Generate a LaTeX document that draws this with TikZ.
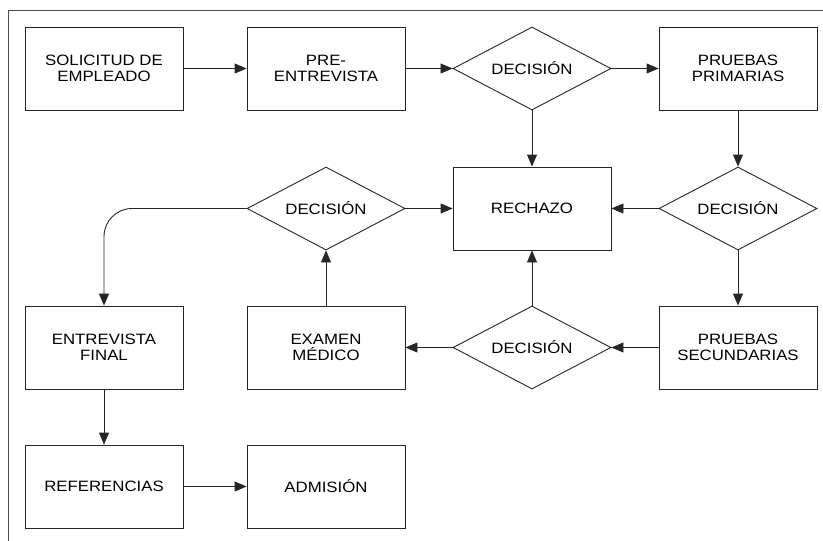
\documentclass[tikz,border=0pt]{standalone}
\usepackage{fontspec}
\setmainfont[FakeStretch=1.12]{Liberation Sans}
\usetikzlibrary{shapes.geometric,arrows.meta}
\begin{document}
\begin{tikzpicture}[x=1pt,y=-1pt,
  every node/.style={font=\fontsize{15}{16.5}\selectfont, align=center, text=black},
  proc/.style={draw=black!85, line width=0.9pt, rectangle, minimum width=158pt, minimum height=83pt, inner sep=0pt},
  decide/.style={draw=black!85, line width=0.9pt, diamond, shape aspect=1.9, minimum width=158pt, minimum height=83pt, inner sep=0pt},
  flow/.style={draw=black!85, line width=0.9pt, -{Triangle[length=12pt,width=10pt]}}]
  % page area and the partial frame along the top and left edges
  \useasboundingbox (0,0) rectangle (823,541);
  \draw[black!70, line width=1pt] (8,541) -- (8,10) -- (823,10);

  % row 1
  \node[proc]   (sol)  at (104,68.5) {SOLICITUD DE\\EMPLEADO};
  \node[proc]   (pre)  at (326,68.5) {PRE-\\ENTREVISTA};
  \node[decide] (d1)   at (532,68.5) {DECISIÓN};
  \node[proc]   (pp)   at (738,68.5) {PRUEBAS\\PRIMARIAS};
  % row 2
  \node[decide] (d3)   at (326,208.5) {DECISIÓN};
  \node[proc]   (rech) at (532,208.5) {RECHAZO};
  \node[decide] (d2)   at (738,208.5) {DECISIÓN};
  % row 3
  \node[proc]   (ef)   at (104,347.5) {ENTREVISTA\\FINAL};
  \node[proc]   (em)   at (326,347.5) {EXAMEN\\MÉDICO};
  \node[decide] (d4)   at (532,347.5) {DECISIÓN};
  \node[proc]   (ps)   at (738,347.5) {PRUEBAS\\SECUNDARIAS};
  % row 4
  \node[proc]   (ref)  at (104,486.5) {REFERENCIAS};
  \node[proc]   (adm)  at (326,486.5) {ADMISIÓN};

  % connectors
  \draw[flow] (sol) -- (pre);
  \draw[flow] (pre) -- (d1);
  \draw[flow] (d1) -- (pp);
  \draw[flow] (d1) -- (rech);
  \draw[flow] (pp) -- (d2);
  \draw[flow] (d2) -- (rech);
  \draw[flow] (d2) -- (ps);
  \draw[flow] (ps) -- (d4);
  \draw[flow] (d4) -- (rech);
  \draw[flow] (d4) -- (em);
  \draw[flow] (em) -- (d3);
  \draw[flow] (d3) -- (rech);
  \draw[flow, rounded corners=28pt] (d3.west) -| (ef.north);
  \draw[flow] (ef) -- (ref);
  \draw[flow] (ref) -- (adm);
\end{tikzpicture}
\end{document}
